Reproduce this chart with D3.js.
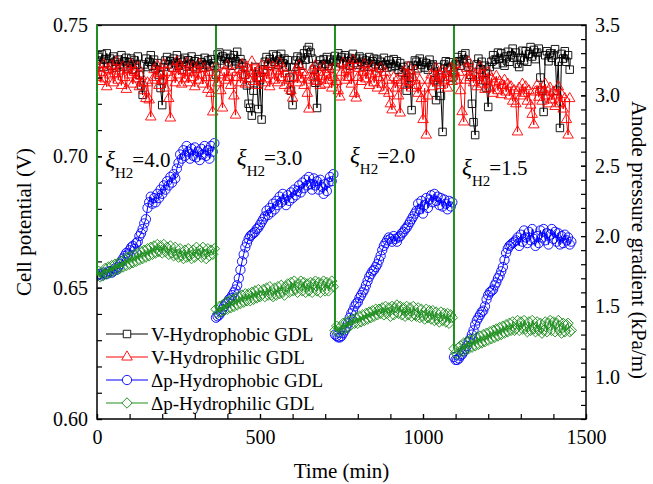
<!DOCTYPE html>
<html>
<head>
<meta charset="utf-8">
<script src="https://cdn.jsdelivr.net/npm/d3@7"></script>
<style>
  body { margin: 0; background: #fff; }
  svg text { font-family: "Liberation Serif", "Times New Roman", Times, "DejaVu Serif", serif; }
</style>
</head>
<body>
<svg id="chart" width="653" height="484"></svg>
<script>
// cell voltage (V), sampled every 5 min from 0 to 1450
var vHydrophobic = [
  .7365,.7378,.7352,.7388,.7340,.7370,.7392,.7355,.7372,.7345,
  .7380,.7360,.7338,.7368,.7350,.7385,.7342,.7362,.7375,.7335,
  .7358,.7372,.7330,.7365,.7348,.7380,.7310,.7270,.7234,.7350,
  .7372,.7340,.7360,.7385,.7345,.7368,.7332,.7355,.7310,.7260,
  .7195,.7340,.7365,.7378,.7350,.7362,.7338,.7372,.7355,.7385,
  .7345,.7368,.7330,.7360,.7375,.7342,.7366,.7352,.7380,.7340,
  .7362,.7335,.7370,.7348,.7358,.7338,.7375,.7350,.7365,.7342,
  .7370,.7355,.7345,.7310,.7388,.7395,.7365,.7380,.7350,.7372,
  .7390,.7358,.7375,.7345,.7385,.7362,.7398,.7350,.7370,.7355,
  .7340,.7310,.7270,.7200,.7185,.7155,.7250,.7340,.7300,.7180,
  .7290,.7140,.7330,.7360,.7378,.7345,.7370,.7352,.7388,.7360,
  .7382,.7348,.7368,.7390,.7355,.7372,.7340,.7366,.7300,.7250,
  .7195,.7340,.7365,.7380,.7352,.7375,.7345,.7392,.7368,.7405,
  .7416,.7395,.7372,.7330,.7280,.7184,.7350,.7365,.7342,.7370,
  .7352,.7378,.7345,.7368,.7335,.7360,.7382,.7368,.7392,.7355,
  .7378,.7350,.7385,.7362,.7375,.7345,.7368,.7390,.7355,.7372,
  .7348,.7380,.7360,.7372,.7342,.7365,.7355,.7378,.7340,.7362,
  .7372,.7350,.7368,.7335,.7360,.7345,.7375,.7350,.7338,.7365,
  .7352,.7340,.7370,.7345,.7362,.7330,.7355,.7320,.7340,.7290,
  .7250,.7345,.7300,.7176,.7345,.7365,.7360,.7335,.7372,.7348,
  .7360,.7338,.7355,.7330,.7368,.7345,.7350,.7290,.7214,.7340,
  .7300,.7230,.7093,.7350,.7362,.7335,.7358,.7340,.7300,.7320,
  .7350,.7378,.7362,.7345,.7385,.7370,.7392,.7355,.7340,.7310,
  .7200,.7130,.7081,.7350,.7372,.7330,.7360,.7290,.7345,.7260,
  .7188,.7340,.7360,.7385,.7368,.7350,.7395,.7372,.7392,.7355,
  .7345,.7380,.7398,.7360,.7385,.7410,.7375,.7395,.7352,.7340,
  .7375,.7402,.7365,.7400,.7360,.7390,.7416,.7380,.7405,.7370,
  .7395,.7410,.7300,.7250,.7169,.7385,.7400,.7362,.7392,.7375,
  .7385,.7408,.7250,.7360,.7108,.7390,.7372,.7400,.7360,.7385,
  .7330
];
var vHydrophilic = [
  .7300,.7335,.7285,.7320,.7350,.7295,.7265,.7330,.7310,.7345,
  .7280,.7315,.7360,.7290,.7325,.7270,.7340,.7300,.7255,.7330,
  .7310,.7350,.7275,.7320,.7295,.7340,.7265,.7305,.7280,.7250,
  .7220,.7280,.7215,.7150,.7290,.7330,.7300,.7345,.7270,.7315,
  .7290,.7350,.7260,.7320,.7220,.7146,.7300,.7335,.7280,.7360,
  .7310,.7345,.7275,.7325,.7295,.7355,.7280,.7320,.7300,.7340,
  .7265,.7330,.7290,.7350,.7310,.7275,.7335,.7300,.7255,.7320,
  .7240,.7169,.7300,.7340,.7280,.7310,.7250,.7184,.7320,.7290,
  .7345,.7300,.7270,.7320,.7230,.7157,.7300,.7330,.7280,.7350,
  .7310,.7275,.7340,.7295,.7325,.7360,.7285,.7315,.7270,.7330,
  .7300,.7345,.7280,.7320,.7295,.7350,.7265,.7310,.7340,.7290,
  .7325,.7280,.7355,.7300,.7335,.7270,.7315,.7290,.7260,.7250,
  .7222,.7300,.7330,.7280,.7345,.7295,.7320,.7270,.7310,.7240,
  .7180,.7290,.7330,.7300,.7345,.7285,.7320,.7270,.7305,.7340,
  .7275,.7310,.7290,.7330,.7260,.7300,.7340,.7285,.7250,.7226,
  .7320,.7355,.7290,.7330,.7300,.7345,.7275,.7365,.7240,.7222,
  .7300,.7335,.7285,.7320,.7350,.7295,.7325,.7270,.7310,.7340,
  .7280,.7315,.7260,.7300,.7335,.7275,.7250,.7320,.7290,.7240,
  .7200,.7177,.7300,.7260,.7290,.7230,.7165,.7280,.7320,.7270,
  .7310,.7340,.7285,.7260,.7300,.7325,.7270,.7240,.7290,.7220,
  .7140,.7260,.7081,.7230,.7290,.7310,.7265,.7300,.7335,.7280,
  .7310,.7270,.7325,.7290,.7315,.7260,.7300,.7335,.7285,.7320,
  .7350,.7290,.7320,.7250,.7170,.7131,.7290,.7335,.7360,.7300,
  .7320,.7280,.7310,.7265,.7300,.7340,.7275,.7310,.7255,.7290,
  .7320,.7260,.7295,.7240,.7280,.7305,.7250,.7285,.7235,.7270,
  .7290,.7245,.7275,.7230,.7265,.7210,.7250,.7200,.7093,.7260,
  .7230,.7275,.7240,.7265,.7210,.7250,.7195,.7160,.7120,.7245,
  .7270,.7225,.7255,.7210,.7245,.7275,.7230,.7200,.7260,.7215,
  .7245,.7190,.7230,.7265,.7200,.7235,.7180,.7220,.7140,.7081,
  .7220
];

// anode pressure gradient (kPa/m), one run per stoichiometry, every 5 min from run start
var segStarts = [0, 365, 730, 1095];
var segLabels = ["4.0", "3.0", "2.0", "1.5"];
var labelTime = [25, 429, 776, 1120];
var labelV = [0.6959, 0.6967, 0.6975, 0.6929];

var dpHydrophobic = [
  [1.72,1.73,1.73,1.72,1.74,1.73,1.73,1.75,1.75,1.74,
   1.75,1.77,1.76,1.78,1.80,1.82,1.84,1.86,1.88,1.87,
   1.90,1.92,1.93,1.91,1.95,1.96,2.00,2.02,2.05,2.09,
   2.12,2.20,2.24,2.28,2.23,2.27,2.24,2.30,2.27,2.33,
   2.30,2.36,2.33,2.39,2.36,2.42,2.38,2.44,2.41,2.48,
   2.52,2.58,2.55,2.61,2.57,2.64,2.60,2.55,2.62,2.57,
   2.63,2.56,2.60,2.54,2.62,2.58,2.64,2.57,2.61,2.55,
   2.64,2.60,2.66],
  [1.42,1.43,1.44,1.46,1.48,1.50,1.52,1.53,1.55,1.56,
   1.58,1.60,1.62,1.65,1.70,1.76,1.82,1.87,1.92,1.95,
   1.98,2.00,2.01,2.02,2.03,2.05,2.06,2.08,2.10,2.12,
   2.14,2.18,2.15,2.20,2.17,2.23,2.19,2.25,2.22,2.28,
   2.24,2.30,2.26,2.22,2.29,2.25,2.31,2.27,2.33,2.29,
   2.32,2.36,2.31,2.38,2.34,2.40,2.36,2.42,2.37,2.33,
   2.41,2.36,2.39,2.33,2.40,2.35,2.30,2.37,2.32,2.38,
   2.42,2.39,2.44],
  [1.30,1.29,1.28,1.28,1.29,1.31,1.33,1.35,1.38,1.42,
   1.45,1.47,1.50,1.52,1.53,1.56,1.58,1.60,1.62,1.65,
   1.68,1.71,1.73,1.75,1.76,1.78,1.80,1.83,1.86,1.90,
   1.93,1.95,1.97,1.99,1.98,1.96,2.00,1.98,1.96,1.99,
   2.00,2.02,2.03,2.05,2.06,2.08,2.10,2.12,2.14,2.16,
   2.18,2.23,2.19,2.25,2.16,2.22,2.27,2.20,2.26,2.29,
   2.24,2.30,2.25,2.28,2.22,2.27,2.21,2.26,2.23,2.19,
   2.25,2.21,2.24],
  [1.14,1.12,1.12,1.13,1.15,1.16,1.18,1.20,1.22,1.25,
   1.27,1.30,1.33,1.37,1.40,1.42,1.44,1.46,1.47,1.50,
   1.55,1.58,1.60,1.61,1.62,1.65,1.67,1.70,1.72,1.75,
   1.78,1.83,1.88,1.91,1.93,1.94,1.95,1.96,1.97,1.99,
   1.93,2.01,1.96,2.04,1.99,1.95,2.03,1.97,2.05,1.98,
   1.93,2.00,1.95,2.04,1.99,2.05,1.97,2.02,1.94,2.01,
   2.05,1.98,2.03,1.96,2.02,1.94,2.00,1.95,2.01,1.97,
   1.99,1.94,1.96]
];
var dpHydrophilic = [
  [1.72,1.75,1.71,1.74,1.72,1.77,1.73,1.78,1.74,1.79,
   1.75,1.80,1.76,1.81,1.77,1.82,1.78,1.84,1.79,1.85,
   1.80,1.86,1.81,1.87,1.82,1.88,1.83,1.89,1.84,1.90,
   1.85,1.91,1.86,1.92,1.87,1.93,1.88,1.94,1.89,1.93,
   1.88,1.94,1.89,1.92,1.87,1.93,1.88,1.86,1.92,1.87,
   1.85,1.91,1.86,1.84,1.90,1.85,1.91,1.86,1.84,1.90,
   1.85,1.92,1.87,1.90,1.85,1.92,1.87,1.84,1.91,1.86,
   1.90,1.87,1.91],
  [1.48,1.45,1.50,1.46,1.51,1.47,1.53,1.48,1.54,1.49,
   1.55,1.50,1.56,1.51,1.57,1.52,1.58,1.53,1.59,1.54,
   1.59,1.54,1.60,1.55,1.61,1.56,1.62,1.57,1.58,1.62,
   1.57,1.63,1.58,1.64,1.58,1.57,1.63,1.58,1.64,1.59,
   1.65,1.60,1.58,1.64,1.66,1.60,1.67,1.61,1.68,1.62,
   1.60,1.66,1.68,1.61,1.67,1.60,1.66,1.61,1.67,1.60,
   1.66,1.68,1.61,1.67,1.60,1.66,1.68,1.61,1.67,1.61,
   1.66,1.68,1.64],
  [1.33,1.36,1.32,1.35,1.33,1.38,1.34,1.39,1.35,1.40,
   1.37,1.41,1.38,1.42,1.38,1.43,1.39,1.44,1.40,1.45,
   1.41,1.46,1.42,1.47,1.43,1.48,1.44,1.48,1.45,1.49,
   1.44,1.50,1.45,1.49,1.43,1.50,1.44,1.49,1.51,1.45,
   1.50,1.44,1.49,1.43,1.50,1.44,1.49,1.43,1.50,1.44,
   1.43,1.49,1.42,1.48,1.43,1.41,1.48,1.42,1.47,1.41,
   1.47,1.40,1.46,1.41,1.39,1.46,1.40,1.45,1.39,1.45,
   1.38,1.44,1.42],
  [1.20,1.17,1.16,1.21,1.22,1.18,1.24,1.19,1.25,1.20,
   1.26,1.21,1.27,1.22,1.28,1.23,1.29,1.24,1.30,1.25,
   1.31,1.26,1.32,1.27,1.33,1.28,1.34,1.29,1.35,1.30,
   1.36,1.31,1.37,1.32,1.38,1.33,1.39,1.33,1.34,1.40,
   1.33,1.39,1.34,1.40,1.34,1.32,1.39,1.33,1.40,1.34,
   1.32,1.39,1.33,1.38,1.31,1.33,1.39,1.32,1.38,1.40,
   1.33,1.39,1.32,1.38,1.40,1.33,1.31,1.38,1.32,1.37,
   1.38,1.32,1.33]
];

var legendNames = ["V-Hydrophobic GDL", "V-Hydrophilic GDL", "\u0394p-Hydrophobic GDL", "\u0394p-Hydrophilic GDL"];
var colors = ["#000000", "#ff0000", "#0000ff", "#1f8f1f"];

var svg = d3.select("#chart");
var x = d3.scaleLinear().domain([0, 1500]).range([97, 586]);
var yL = d3.scaleLinear().domain([0.60, 0.75]).range([419, 25]);
var yR = d3.scaleLinear().domain([0.7, 3.5]).range([419, 25]);

var symbols = [
  { type: d3.symbolSquare, size: 56, rot: 0 },
  { type: d3.symbolTriangle, size: 48, rot: 0 },
  { type: d3.symbolCircle, size: 68, rot: 0 },
  { type: d3.symbolSquare, size: 54, rot: 45 }
];

var step = 5;
var vTime = d3.range(0, 1451, step);
var vSeries = [vHydrophobic, vHydrophilic].map(function (vals) {
  return vals.map(function (v, i) { return { t: vTime[i], v: v }; });
});

svg.append("defs").append("clipPath").attr("id", "clip")
  .append("rect").attr("x", 97).attr("y", 25).attr("width", 489).attr("height", 394);

var plot = svg.append("g").attr("clip-path", "url(#clip)");

// voltage curves
vSeries.forEach(function (pts, k) {
  var line = d3.line().x(function (d) { return x(d.t); }).y(function (d) { return yL(d.v); });
  plot.append("path").datum(pts)
    .attr("d", line)
    .attr("fill", "none")
    .attr("stroke", colors[k])
    .attr("stroke-width", 1);
  plot.append("g").selectAll("path")
    .data(pts)
    .join("path")
    .attr("d", d3.symbol().type(symbols[k].type).size(symbols[k].size))
    .attr("transform", function (d) { return "translate(" + x(d.t) + "," + yL(d.v) + ")"; })
    .attr("fill", "none")
    .attr("stroke", colors[k])
    .attr("stroke-width", 0.9);
});

// pressure curves
[dpHydrophobic, dpHydrophilic].forEach(function (segs, j) {
  var k = j + 2;
  segs.forEach(function (vals, s) {
    var pts = vals.map(function (p, i) { return { t: segStarts[s] + i * step, p: p }; });
    var line = d3.line().x(function (d) { return x(d.t); }).y(function (d) { return yR(d.p); });
    plot.append("path").datum(pts)
      .attr("d", line)
      .attr("fill", "none")
      .attr("stroke", colors[k])
      .attr("stroke-width", 1);
    plot.append("g").selectAll("path")
      .data(pts)
      .join("path")
      .attr("d", d3.symbol().type(symbols[k].type).size(symbols[k].size))
      .attr("transform", function (d) {
        return "translate(" + x(d.t) + "," + yR(d.p) + ") rotate(" + symbols[k].rot + ")";
      })
      .attr("fill", "none")
      .attr("stroke", colors[k])
      .attr("stroke-width", 0.9);
  });
});

// the pressure trace shoots off scale at each change of stoichiometry
plot.append("g").selectAll("line")
  .data(segStarts)
  .join("line")
  .attr("x1", function (d) { return x(d); })
  .attr("x2", function (d) { return x(d); })
  .attr("y1", yR.range()[1])
  .attr("y2", function (d, i) { return yR(dpHydrophilic[i][0]); })
  .attr("stroke", colors[3])
  .attr("stroke-width", 2);

// axes
function styleAxis(g) {
  g.attr("font-family", null);
  g.select(".domain").remove();
  g.selectAll(".tick line").attr("stroke", "#000").attr("stroke-width", 1.2);
  g.selectAll(".tick text").attr("fill", "#000").style("font-size", "20px");
}

svg.append("g").attr("transform", "translate(0,419)")
  .call(d3.axisBottom(x).tickValues(d3.range(0, 1501, 100)).tickSize(-5).tickFormat(""))
  .call(styleAxis);
svg.append("g").attr("transform", "translate(0,419)")
  .call(d3.axisBottom(x).tickValues([0, 500, 1000, 1500]).tickSize(-5).tickPadding(11).tickFormat(d3.format("d")))
  .call(styleAxis);

svg.append("g").attr("transform", "translate(97,0)")
  .call(d3.axisLeft(yL).tickValues(d3.range(0.60, 0.7501, 0.01)).tickSize(-5).tickFormat(""))
  .call(styleAxis);
svg.append("g").attr("transform", "translate(97,0)")
  .call(d3.axisLeft(yL).tickValues([0.60, 0.65, 0.70, 0.75]).tickSize(-5).tickPadding(9).tickFormat(d3.format(".2f")))
  .call(styleAxis);

svg.append("g").attr("transform", "translate(586,0)")
  .call(d3.axisRight(yR).tickValues(d3.range(0.7, 3.501, 0.1)).tickSize(-5).tickFormat(""))
  .call(styleAxis);
svg.append("g").attr("transform", "translate(586,0)")
  .call(d3.axisRight(yR).tickValues([1.0, 1.5, 2.0, 2.5, 3.0, 3.5]).tickSize(-5).tickPadding(9).tickFormat(d3.format(".1f")))
  .call(styleAxis);

// frame
svg.append("rect")
  .attr("x", 97).attr("y", 25).attr("width", 489).attr("height", 394)
  .attr("fill", "none").attr("stroke", "#000").attr("stroke-width", 1.5);
// green trace at t = 0 sits over the left axis
svg.append("line")
  .attr("x1", x(0)).attr("x2", x(0))
  .attr("y1", yR.range()[1]).attr("y2", yR(dpHydrophilic[0][0]))
  .attr("stroke", colors[3]).attr("stroke-width", 2);

// axis titles
svg.append("text")
  .attr("x", x(750)).attr("y", 478)
  .attr("text-anchor", "middle")
  .style("font-size", "21px")
  .text("Time (min)");
svg.append("text")
  .attr("transform", "translate(31," + yL(0.675) + ") rotate(-90)")
  .attr("text-anchor", "middle")
  .style("font-size", "21px")
  .text("Cell potential (V)");
svg.append("text")
  .attr("transform", "translate(632,240) rotate(90)")
  .attr("text-anchor", "middle")
  .style("font-size", "21px")
  .text("Anode pressure gradient (kPa/m)");

// stoichiometry labels
segLabels.forEach(function (lab, i) {
  var t = svg.append("text")
    .attr("x", x(labelTime[i])).attr("y", yL(labelV[i]))
    .style("font-size", "21px");
  t.append("tspan").style("font-style", "italic").style("font-size", "23px").text("\u03be");
  t.append("tspan").attr("dy", 11).style("font-size", "15px").text("H2");
  t.append("tspan").attr("dy", -11).attr("dx", -1).text("=" + lab);
});

// legend
var legend = svg.append("g");
legendNames.forEach(function (name, i) {
  var ly = 334 + i * 23;
  legend.append("line")
    .attr("x1", 106).attr("x2", 148).attr("y1", ly).attr("y2", ly)
    .attr("stroke", colors[i]).attr("stroke-width", 1);
  legend.append("path")
    .attr("d", d3.symbol().type(symbols[i].type).size(symbols[i].size)())
    .attr("transform", "translate(127," + ly + ") rotate(" + symbols[i].rot + ")")
    .attr("fill", "#fff")
    .attr("stroke", colors[i])
    .attr("stroke-width", 0.9);
  legend.append("text")
    .attr("x", 151).attr("y", ly)
    .attr("dy", "0.35em")
    .style("font-size", "19px")
    .text(name);
});
</script>
</body>
</html>
